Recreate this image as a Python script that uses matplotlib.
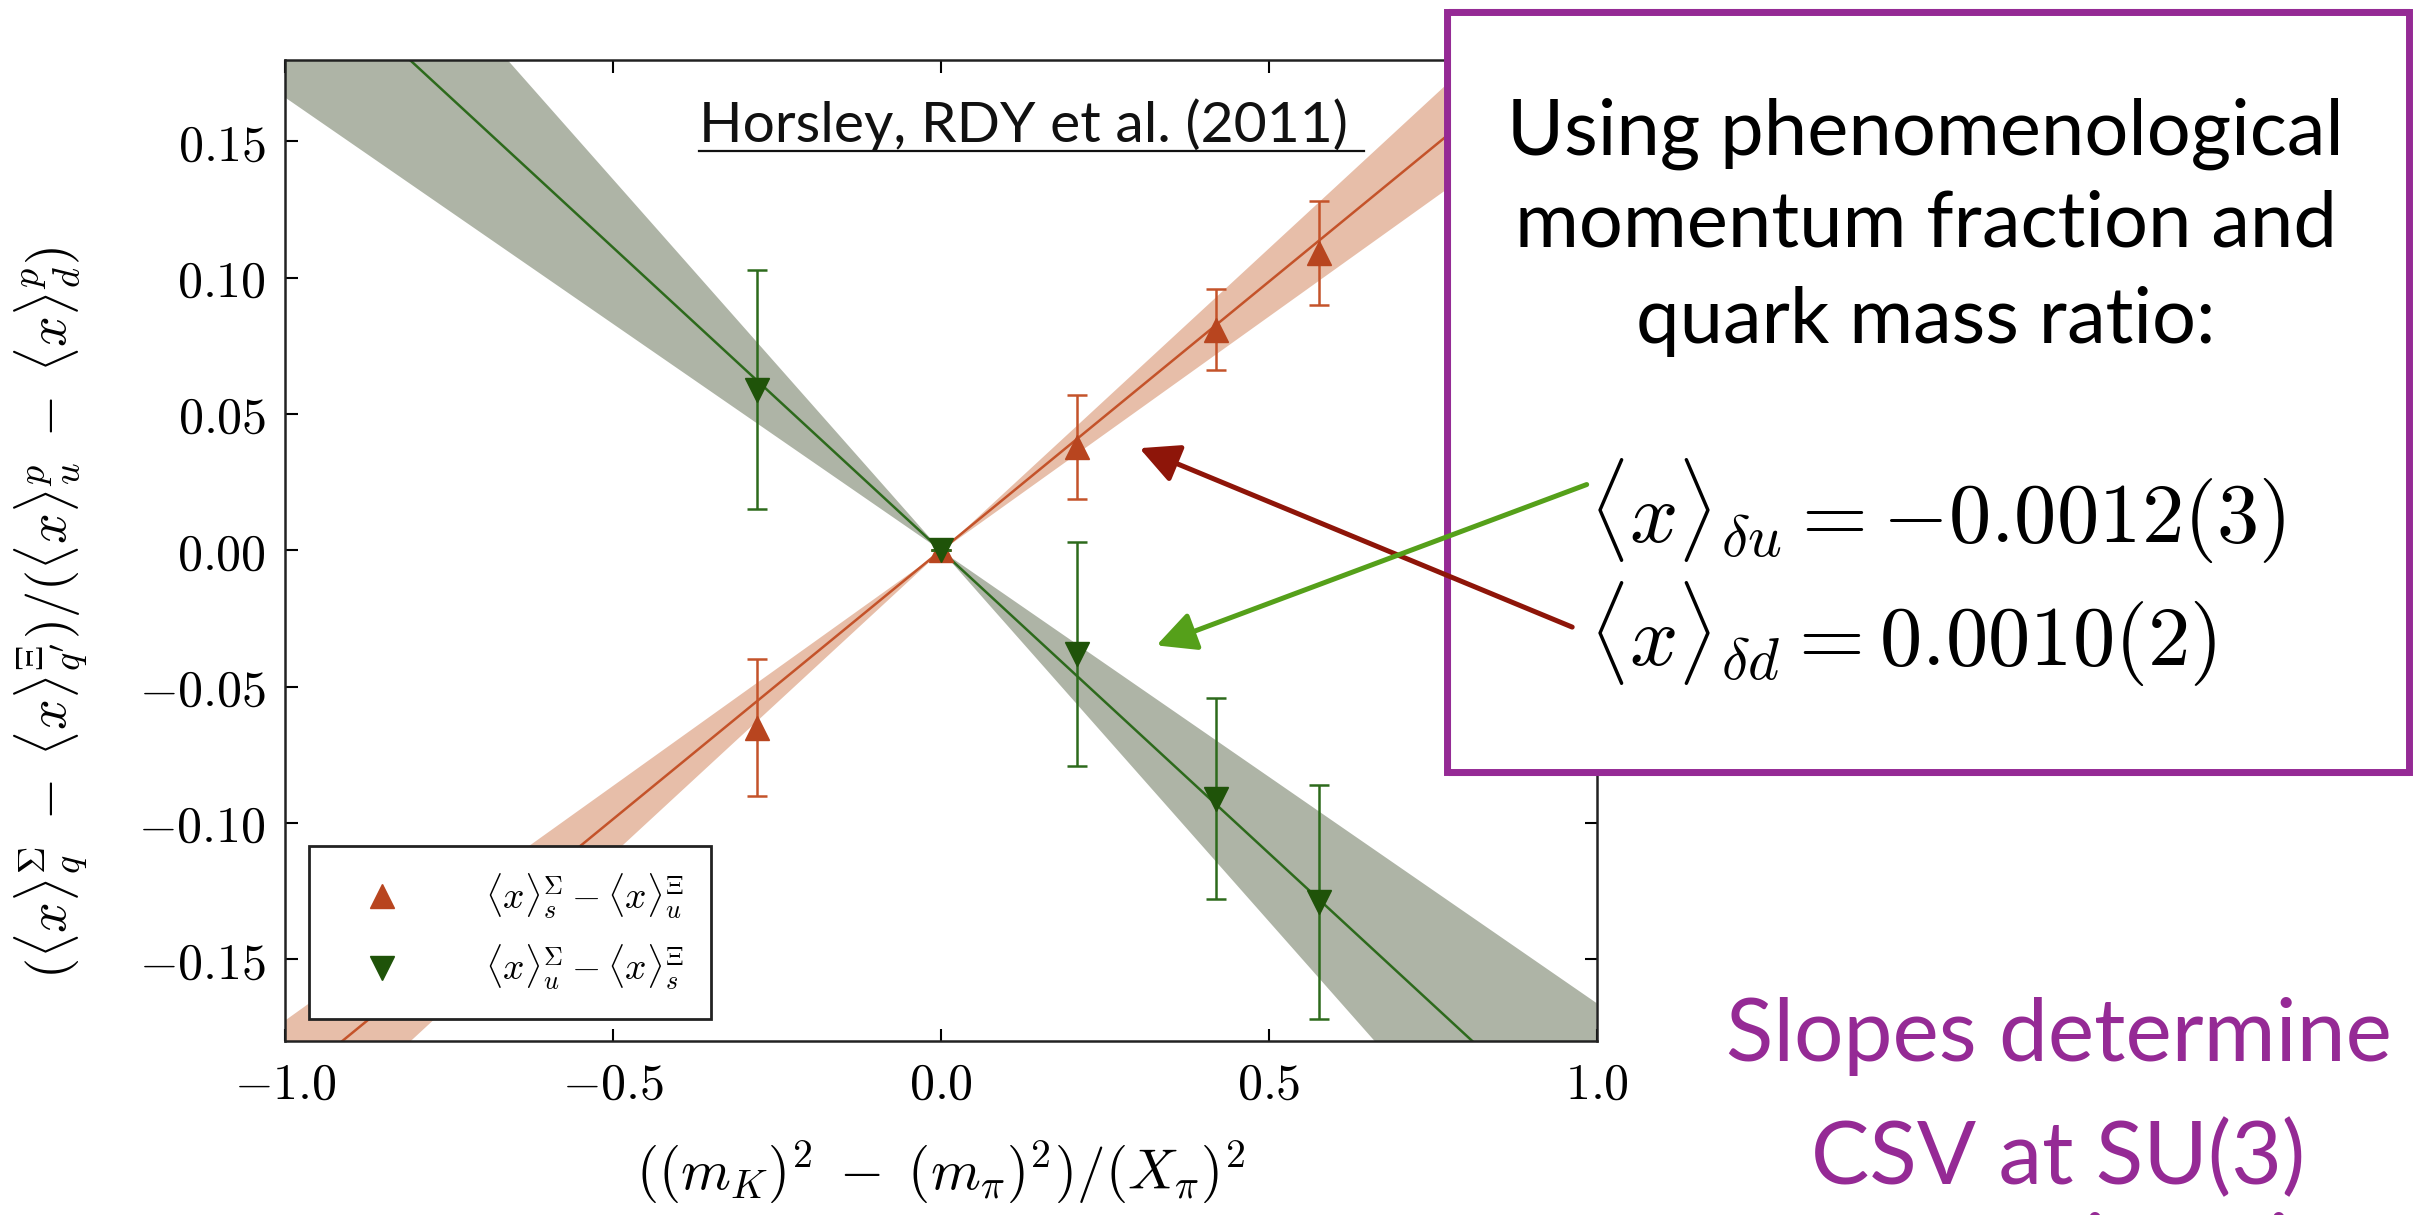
import numpy as np
import matplotlib
matplotlib.use("Agg")
import matplotlib.pyplot as plt
from matplotlib.patches import Rectangle, FancyArrowPatch
from matplotlib.lines import Line2D
from matplotlib.ticker import FuncFormatter, MultipleLocator

plt.rcParams['mathtext.fontset'] = 'cm'

# data
x_pts = [-0.28, 0.0, 0.207, 0.419, 0.576]
sig_s_xi_u = [-0.065, 0.0, 0.038, 0.081, 0.109]
sig_s_xi_u_err = [0.025, 0.0, 0.019, 0.015, 0.019]
sig_u_xi_s = [0.059, 0.0, -0.038, -0.091, -0.129]
sig_u_xi_s_err = [0.044, 0.0, 0.041, 0.037, 0.043]

# fitted slopes (central, lower, upper)
orange_slope = [0.197, 0.172, 0.222]
green_slope = [-0.222, -0.166, -0.272]

legend_labels = [r'$\langle x\rangle^{\Sigma}_{s}-\langle x\rangle^{\Xi}_{u}$',
                 r'$\langle x\rangle^{\Sigma}_{u}-\langle x\rangle^{\Xi}_{s}$']
box_lines = ['Using phenomenological', 'momentum fraction and', 'quark mass ratio:']
results = [r'$\langle x\rangle_{\delta u}=-0.0012(3)$', r'$\langle x\rangle_{\delta d}=0.0010(2)$']
slide_note = ['Slopes determine', 'CSV at SU(3)', 'symmetric point']

c_or_line = '#c4532a'
c_or_mark = '#b8451f'
c_or_band = '#e7bea9'
c_gr_line = '#2d6a1c'
c_gr_mark = '#1f5309'
c_gr_band = '#aeb4a6'
purple = '#952a95'

fig = plt.figure(figsize=(24.19, 12.15), dpi=100)
ax = fig.add_axes([0.118, 0.143, 0.542, 0.808])

xs = np.linspace(-1, 1, 201)
for s, line_c, band_c in [(orange_slope, c_or_line, c_or_band), (green_slope, c_gr_line, c_gr_band)]:
    lo = np.minimum(s[1] * xs, s[2] * xs)
    hi = np.maximum(s[1] * xs, s[2] * xs)
    ax.fill_between(xs, lo, hi, color=band_c, lw=0, zorder=1)
    ax.plot(xs, s[0] * xs, color=line_c, lw=1.8, zorder=2)

ax.errorbar(x_pts, sig_s_xi_u, yerr=sig_s_xi_u_err, fmt='^', color=c_or_line, mfc=c_or_mark,
            mec=c_or_mark, ms=17, elinewidth=1.8, capsize=7, capthick=1.8, zorder=3)
ax.errorbar(x_pts, sig_u_xi_s, yerr=sig_u_xi_s_err, fmt='v', color=c_gr_line, mfc=c_gr_mark,
            mec=c_gr_mark, ms=17, elinewidth=1.8, capsize=7, capthick=1.8, zorder=4)

ax.set_xlim(-1, 1)
ax.set_ylim(-0.18, 0.18)
ax.xaxis.set_major_locator(MultipleLocator(0.5))
ax.yaxis.set_major_locator(MultipleLocator(0.05))
ax.xaxis.set_major_formatter(FuncFormatter(lambda v, p: r'$%.1f$' % v))
ax.yaxis.set_major_formatter(FuncFormatter(lambda v, p: r'$%.2f$' % v))
ax.tick_params(direction='in', top=True, right=True, length=9, width=1.5, labelsize=36, pad=14)
for sp in ax.spines.values():
    sp.set_linewidth(1.8)
    sp.set_color('#222222')

ax.set_xlabel(r'$((m_K)^2\;-\;(m_\pi)^2)/(X_\pi)^2$', fontsize=41, labelpad=22)
ax.set_ylabel(r"$(\langle x\rangle^{\Sigma}_{q}\;-\;\langle x\rangle^{\Xi}_{q'})/(\langle x\rangle^{p}_{u}\;-\;\langle x\rangle^{p}_{d})$",
              fontsize=39)
ax.yaxis.set_label_coords(-0.150, 0.436)

handles = [Line2D([], [], ls='none', marker='^', ms=17, color=c_or_mark),
           Line2D([], [], ls='none', marker='v', ms=17, color=c_gr_mark)]
leg = ax.legend(handles, legend_labels, loc='lower left', bbox_to_anchor=(0.018, 0.023),
                borderaxespad=0, fontsize=27, fancybox=False, edgecolor='#222222',
                framealpha=1, handlelength=2.5, handletextpad=1.5, borderpad=0.7, labelspacing=0.6)
leg.get_frame().set_linewidth(2)

# citation
fig.text(0.289, 0.883, 'Horsley, RDY et al. (2011)', fontsize=41, family='Lato',
         color='#111111')
fig.add_artist(Line2D([0.289, 0.564], [0.8755, 0.8755], color='#111111', lw=1.6))

# purple annotation box
fig.add_artist(Rectangle((0.598, 0.365), 0.398, 0.625, transform=fig.transFigure,
                         facecolor='white', edgecolor=purple, lw=5, zorder=5))
fig.add_artist(Rectangle((0.5995, 0.3625), 0.3965, 0.629, transform=fig.transFigure,
                         facecolor='none', edgecolor=purple, lw=1.5, alpha=0.7, zorder=5))

for txt, yb in zip(box_lines, [0.873, 0.797, 0.718]):
    fig.text(0.796, yb, txt, fontsize=56, family='Lato', ha='center', va='baseline',
             color='black', zorder=6)
for txt, yb in zip(results, [0.553, 0.452]):
    fig.text(0.657, yb, txt, fontsize=61, ha='left', va='baseline', color='black', zorder=6)

# arrows
fig.add_artist(FancyArrowPatch((0.651, 0.483), (0.470, 0.632), transform=fig.transFigure,
                               arrowstyle='-|>', mutation_scale=60, lw=3.6,
                               color='#8e1509', zorder=7))
fig.add_artist(FancyArrowPatch((0.657, 0.602), (0.477, 0.468), transform=fig.transFigure,
                               arrowstyle='-|>', mutation_scale=60, lw=3.6,
                               color='#55a01a', zorder=7))

for txt, yb in zip(slide_note, [0.127, 0.025, -0.050]):
    fig.text(0.851, yb, txt, fontsize=63, family='Lato', ha='center',
             va='baseline', color=purple)

fig.savefig('out.png', dpi=100)
